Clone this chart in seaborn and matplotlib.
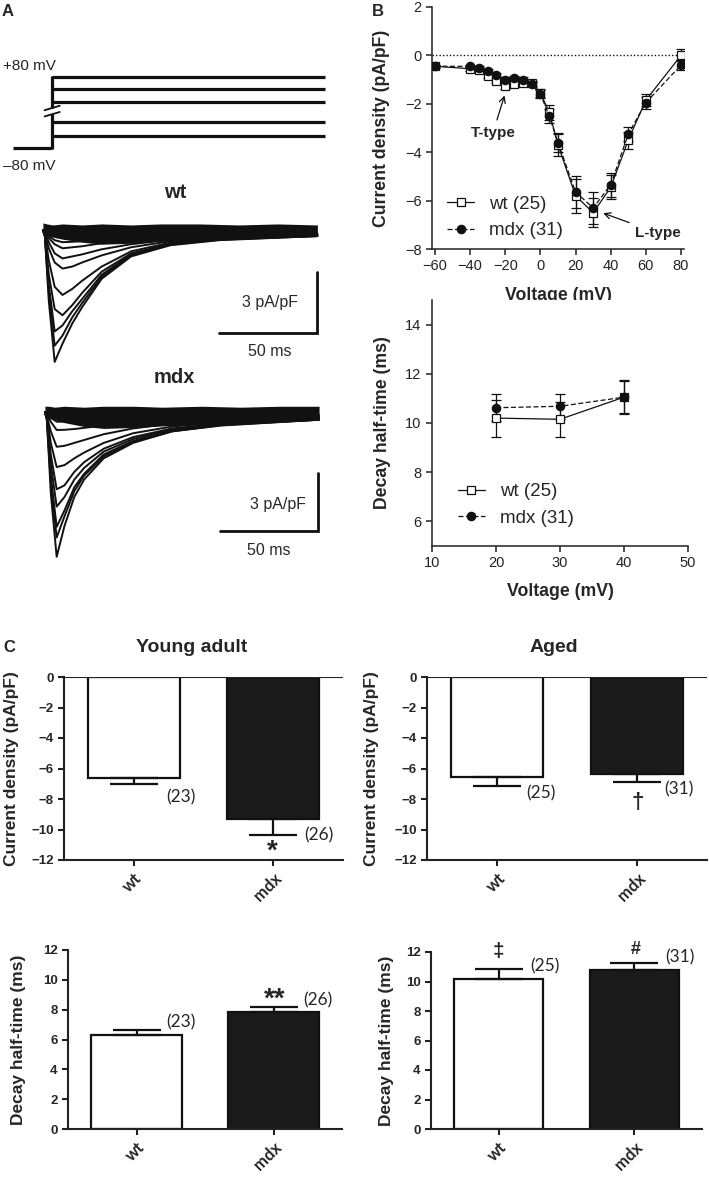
import numpy as np
import pandas as pd
import matplotlib
matplotlib.use("Agg")
import matplotlib.pyplot as plt
import seaborn as sns

# ---------------- data ----------------
# A: voltage protocol (schematic levels, mV)
protocol_t = [-20, 0, 140]
holding_mv = -80
step_mv = [80, 53, 24, -21, -53]

# A: current traces (ms, pA/pF)
trace_t = [0, 1, 3, 6, 10, 15, 20, 30, 45, 65, 90, 140]
wt_traces = [
    [0, -0.3, -3.5, -6.5, -5.6, -4.6, -3.8, -2.4, -1.3, -0.75, -0.5, -0.3],
    [0, -0.3, -3.1, -5.7, -5.2, -4.3, -3.6, -2.3, -1.25, -0.72, -0.48, -0.3],
    [0, -0.3, -2.7, -5.0, -4.7, -4.0, -3.4, -2.2, -1.2, -0.7, -0.46, -0.28],
    [0, -0.3, -2.2, -3.9, -4.2, -3.7, -3.1, -2.05, -1.15, -0.68, -0.45, -0.28],
    [0, -0.2, -1.5, -2.8, -3.2, -2.9, -2.5, -1.8, -1.05, -0.62, -0.42, -0.26],
    [0, -0.2, -0.9, -1.6, -1.9, -1.8, -1.6, -1.25, -0.85, -0.55, -0.38, -0.24],
    [0, -0.15, -0.6, -1.15, -1.4, -1.3, -1.2, -0.95, -0.7, -0.48, -0.34, -0.22],
    [0, -0.1, -0.4, -0.7, -0.9, -0.85, -0.8, -0.65, -0.5, -0.38, -0.28, -0.2],
    [0, -0.1, -0.3, -0.5, -0.6, -0.58, -0.55, -0.48, -0.38, -0.3, -0.22, -0.16],
]
mdx_traces = [
    [0, -0.4, -4.2, -7.5, -5.9, -4.4, -3.5, -2.4, -1.6, -1.0, -0.7, -0.4],
    [0, -0.4, -3.6, -6.5, -5.4, -4.1, -3.3, -2.3, -1.55, -1.0, -0.68, -0.4],
    [0, -0.3, -3.3, -5.95, -5.1, -3.9, -3.2, -2.2, -1.5, -0.95, -0.65, -0.4],
    [0, -0.3, -2.7, -4.9, -4.4, -3.5, -2.9, -2.05, -1.4, -0.9, -0.62, -0.38],
    [0, -0.3, -2.2, -4.0, -3.8, -3.1, -2.6, -1.9, -1.3, -0.85, -0.6, -0.36],
    [0, -0.2, -1.6, -2.85, -2.75, -2.4, -2.1, -1.6, -1.1, -0.75, -0.55, -0.33],
    [0, -0.2, -1.0, -1.8, -1.75, -1.6, -1.45, -1.15, -0.85, -0.6, -0.45, -0.3],
    [0, -0.1, -0.5, -0.93, -0.92, -0.88, -0.82, -0.7, -0.55, -0.42, -0.32, -0.22],
    [0, -0.1, -0.3, -0.5, -0.5, -0.48, -0.45, -0.4, -0.34, -0.28, -0.2, -0.15],
]
# baseline noise envelope of the overlaid traces
noise_t = [0, 2, 5, 10, 20, 30, 45, 60, 80, 100, 120, 140]
wt_noise_hi = [0.35, 0.3, 0.25, 0.3, 0.25, 0.3, 0.25, 0.3, 0.3, 0.25, 0.3, 0.25]
wt_noise_lo = [-0.2, -0.25, -0.35, -0.45, -0.6, -0.7, -0.65, -0.55, -0.45, -0.4, -0.36, -0.32]
mdx_noise_hi = [0.3, 0.3, 0.25, 0.3, 0.25, 0.3, 0.3, 0.25, 0.3, 0.25, 0.3, 0.3]
mdx_noise_lo = [-0.2, -0.3, -0.4, -0.55, -0.75, -0.85, -0.8, -0.72, -0.62, -0.52, -0.46, -0.42]
scale_ms = 50
scale_density = 3

# B: current-voltage relation
iv_voltage = [-60, -40, -35, -30, -25, -20, -15, -10, -5, 0, 5, 10, 20, 30, 40, 50, 60, 80]
iv_wt = [-0.45, -0.55, -0.6, -0.85, -1.05, -1.25, -1.2, -1.15, -1.15, -1.55, -2.35, -3.7,
         -5.8, -6.5, -5.45, -3.5, -1.85, 0.0]
iv_wt_sem = [0.05, 0.08, 0.08, 0.1, 0.1, 0.12, 0.1, 0.1, 0.1, 0.15, 0.3, 0.45,
             0.7, 0.6, 0.5, 0.35, 0.25, 0.25]
iv_mdx = [-0.45, -0.45, -0.5, -0.65, -0.8, -1.0, -0.95, -1.0, -1.2, -1.6, -2.5, -3.6,
          -5.65, -6.3, -5.35, -3.25, -1.95, -0.4]
iv_mdx_sem = [0.05, 0.06, 0.06, 0.08, 0.08, 0.1, 0.1, 0.1, 0.1, 0.15, 0.3, 0.4,
              0.65, 0.65, 0.5, 0.3, 0.25, 0.2]

# B: decay half-time vs voltage
dec_voltage = [20, 30, 40]
dec_wt = [10.2, 10.15, 11.05]
dec_wt_sem = [0.75, 0.7, 0.7]
dec_mdx = [10.62, 10.68, 11.05]
dec_mdx_sem = [0.55, 0.5, 0.65]

# C: bar charts
groups = ["wt", "mdx"]
young_density = [-6.6, -9.33]
young_density_sem = [0.44, 1.01]
young_n = ["(23)", "(26)"]
aged_density = [-6.54, -6.38]
aged_density_sem = [0.59, 0.49]
aged_n = ["(25)", "(31)"]
young_decay = [6.3, 7.82]
young_decay_sem = [0.34, 0.36]
aged_decay = [10.2, 10.78]
aged_decay_sem = [0.67, 0.47]

# ---------------- style ----------------
sns.set_style("ticks")
plt.rcParams["font.family"] = ["Liberation Sans", "DejaVu Sans"]
plt.rcParams["axes.unicode_minus"] = True

W, H = 709, 1181
fig = plt.figure(figsize=(W / 100, H / 100), dpi=100)


def px_axes(l, t, r, b):
    return fig.add_axes([l / W, 1 - b / H, (r - l) / W, (b - t) / H])


def px_text(x, y, s, **kw):
    fig.text(x / W, 1 - y / H, s, **kw)


INK = "#111111"

# panel letters
px_text(8, 12, "A", fontsize=12, fontweight="bold", ha="center", va="center")
px_text(378, 12, "B", fontsize=12, fontweight="bold", ha="center", va="center")
px_text(9, 648, "C", fontsize=12, fontweight="bold", ha="center", va="center")

# ---------------- A: protocol ----------------
ax = px_axes(11, 60, 327, 170)
ax.set_xlim(-21, 141)
ax.set_ylim(-129.5, 118)
ax.axis("off")
lw_p = 2.3
ax.plot(protocol_t[:2], [holding_mv, holding_mv], color=INK, lw=lw_p, solid_capstyle="butt")
ax.plot([0, 0], [holding_mv - 1.5, -4], color=INK, lw=lw_p, solid_capstyle="butt")
ax.plot([0, 0], [10, step_mv[0] + 1.5], color=INK, lw=lw_p, solid_capstyle="butt")
for yb in (-4, 10):
    ax.plot([-3.8, 4], [yb - 5, yb + 5], color=INK, lw=1.3)
for lv in step_mv:
    ax.plot(protocol_t[1:], [lv, lv], color=INK, lw=lw_p, solid_capstyle="butt")
px_text(3, 66, "+80 mV", fontsize=11, ha="left", va="center")
px_text(3, 166, "\u201380 mV", fontsize=11, ha="left", va="center")


# ---------------- A: traces ----------------
def trace_panel(box, ylim, traces, hi, lo):
    ax = px_axes(*box)
    rows = [(t, v, i) for i, tr in enumerate(traces) for t, v in zip(trace_t, tr)]
    df = pd.DataFrame(rows, columns=["t", "I", "trace"])
    ax.fill_between(noise_t, hi, lo, color=INK, lw=0)
    sns.lineplot(data=df, x="t", y="I", units="trace", estimator=None, color=INK,
                 lw=1.4, legend=False, ax=ax)
    ax.set_xlim(-2, 142)
    ax.set_ylim(*ylim)
    ax.axis("off")
    return ax


ax = trace_panel((39, 213.8, 321.3, 370), (-6.9, 0.8), wt_traces, wt_noise_hi, wt_noise_lo)
xe, yt = 139.8, -2.07
ax.plot([xe, xe, xe - scale_ms], [yt, yt - scale_density, yt - scale_density],
        color=INK, lw=2, solid_joinstyle="miter")
ax.text(xe - 24, yt - 1.48, "3 pA/pF", fontsize=11.5, ha="center", va="center")
ax.text(xe - 24, yt - 3.93, "50 ms", fontsize=11.5, ha="center", va="center")
px_text(175, 193, "wt", fontsize=14.5, fontweight="bold", ha="center", va="center")

ax = trace_panel((41, 396.6, 323, 564.5), (-7.9, 0.8), mdx_traces, mdx_noise_hi, mdx_noise_lo)
xe, yt = 139.3, -3.16
ax.plot([xe, xe, xe - scale_ms], [yt, yt - scale_density, yt - scale_density],
        color=INK, lw=2, solid_joinstyle="miter")
ax.text(xe - 20.4, yt - 1.64, "3 pA/pF", fontsize=11.5, ha="center", va="center")
ax.text(xe - 25, yt - 4.0, "50 ms", fontsize=11.5, ha="center", va="center")
px_text(174, 378, "mdx", fontsize=14.5, fontweight="bold", ha="center", va="center")


# ---------------- B ----------------
def style_b(ax):
    sns.despine(ax=ax)
    for s in ("left", "bottom"):
        ax.spines[s].set_linewidth(1.1)
        ax.spines[s].set_color("#222")
    ax.tick_params(direction="out", length=4, width=1.1, color="#222",
                   labelsize=10.5, labelcolor="#222")


def xy_series(ax, x, wt, wt_sem, mdx, mdx_sem):
    ax.errorbar(x, wt, yerr=wt_sem, fmt="none", ecolor=INK, elinewidth=0.9,
                capsize=3.5, capthick=0.9, zorder=2)
    ax.errorbar(x, mdx, yerr=mdx_sem, fmt="none", ecolor=INK, elinewidth=0.9,
                capsize=3.5, capthick=0.9, zorder=2)
    sns.lineplot(x=x, y=wt, ax=ax, color=INK, lw=0.9, marker="s", ms=6,
                 markerfacecolor="white", markeredgecolor=INK, markeredgewidth=0.9,
                 errorbar=None, label="wt (25)", zorder=3)
    sns.lineplot(x=x, y=mdx, ax=ax, color=INK, lw=0.9, ls=(0, (4, 2)), marker="o", ms=6,
                 markerfacecolor=INK, markeredgecolor=INK, markeredgewidth=0.9,
                 errorbar=None, label="mdx (31)", zorder=4)


def b_legend(ax, anchor):
    ax.legend(loc="upper left", bbox_to_anchor=anchor, frameon=False, fontsize=13.5,
              handlelength=1.45, handletextpad=0.8, labelspacing=0.5,
              borderpad=0, borderaxespad=0)


ax = px_axes(432, 7, 684, 249)
ax.axhline(0, color=INK, lw=1, ls=(0, (1, 1.5)), zorder=1)
xy_series(ax, iv_voltage, iv_wt, iv_wt_sem, iv_mdx, iv_mdx_sem)
ax.set_xlim(-61.7, 81.7)
ax.set_ylim(-8, 2)
ax.set_xticks(range(-60, 81, 20))
ax.set_yticks(range(-8, 3, 2))
style_b(ax)
ax.set_xlabel("Voltage (mV)", fontsize=12.7, fontweight="bold")
ax.set_ylabel("Current density (pA/pF)", fontsize=12.7, fontweight="bold")
ax.xaxis.set_label_coords(0.5, -0.157)
ax.yaxis.set_label_coords(-0.165, 0.5)
b_legend(ax, (0.06, 0.22))
ax.annotate("T-type", xy=(-20.2, -1.6), xytext=(-27, -3.2), fontsize=11, fontweight="bold",
            ha="center", va="center",
            arrowprops=dict(arrowstyle="->", color=INK, lw=0.9, shrinkA=2, shrinkB=1))
ax.annotate("L-type", xy=(35, -6.5), xytext=(66.9, -7.34), fontsize=11, fontweight="bold",
            ha="center", va="center",
            arrowprops=dict(arrowstyle="->", color=INK, lw=0.9, shrinkA=2, shrinkB=1))

ax = px_axes(432, 300, 688, 546)
xy_series(ax, dec_voltage, dec_wt, dec_wt_sem, dec_mdx, dec_mdx_sem)
ax.set_xlim(10, 50)
ax.set_ylim(5, 15)
ax.set_xticks(range(10, 51, 10))
ax.set_yticks(range(6, 15, 2))
style_b(ax)
ax.set_xlabel("Voltage (mV)", fontsize=12.7, fontweight="bold")
ax.set_ylabel("Decay half-time (ms)", fontsize=12.7, fontweight="bold")
ax.xaxis.set_label_coords(0.5, -0.15)
ax.yaxis.set_label_coords(-0.162, 0.5)
b_legend(ax, (0.10, 0.255))


# ---------------- C ----------------
def bar_panel(box, vals, sems, ylim, yticks, ylabel, label_x):
    ax = px_axes(*box)
    df = pd.DataFrame({"group": groups, "value": vals})
    sns.barplot(data=df, x="group", y="value", hue="group", palette=["white", "#1a1a1a"],
                width=0.66, edgecolor=INK, linewidth=1.6, saturation=1, errorbar=None,
                legend=False, ax=ax, zorder=2)
    down = [s if v < 0 else 0 for v, s in zip(vals, sems)]
    up = [s if v > 0 else 0 for v, s in zip(vals, sems)]
    ax.errorbar([0, 1], vals, yerr=[down, up], fmt="none", ecolor=INK, elinewidth=1.6,
                capsize=17, capthick=1.6, zorder=3)
    ax.set_xlim(-0.5, 1.5)
    ax.set_ylim(*ylim)
    ax.set_yticks(yticks)
    sns.despine(ax=ax)
    for s in ("left", "bottom"):
        ax.spines[s].set_linewidth(1.5)
        ax.spines[s].set_color("#222")
    if ylim[1] == 0:
        ax.axhline(0, color="#222", lw=1.5, zorder=4)
    ax.tick_params(direction="out", length=4, width=1.5, color="#222", labelsize=9.5)
    for lab in ax.get_yticklabels():
        lab.set_fontweight("bold")
    ax.set_xticks([0, 1])
    ax.set_xticklabels(groups, rotation=45, ha="right", va="top", rotation_mode="anchor",
                       fontsize=12, fontweight="bold", family=["Lato", "DejaVu Sans"])
    ax.set_xlabel("")
    ax.set_ylabel(ylabel, fontsize=12.5, fontweight="bold")
    ax.yaxis.set_label_coords(label_x, 0.5)
    return ax


nfont = dict(fontsize=12.5, family=["Lato", "DejaVu Sans"], ha="left", va="center")

ax = bar_panel((64, 677, 343, 860), young_density, young_density_sem, (-12, 0),
               range(-12, 1, 2), "Current density (pA/pF)", -0.163)
ax.text(0.232, -7.87, young_n[0], **nfont)
ax.text(1.225, -10.36, young_n[1], **nfont)
ax.text(0.996, -11.45, "*", fontsize=20, fontweight="bold", ha="center", va="center")
px_text(192, 648, "Young adult", fontsize=14, fontweight="bold", ha="center", va="center")

ax = bar_panel((427, 677, 707, 860), aged_density, aged_density_sem, (-12, 0),
               range(-12, 1, 2), "Current density (pA/pF)", -0.173)
ax.text(0.21, -7.6, aged_n[0], **nfont)
ax.text(1.196, -7.4, aged_n[1], **nfont)
ax.text(1.007, -8.26, "\u2020", fontsize=16, fontweight="bold", ha="center", va="center")
px_text(554, 648, "Aged", fontsize=14, fontweight="bold", ha="center", va="center")

ax = bar_panel((68, 950, 342, 1129), young_decay, young_decay_sem, (0, 12),
               range(0, 13, 2), "Decay half-time (ms)", -0.155)
ax.text(0.216, 7.17, young_n[0], **nfont)
ax.text(1.22, 8.65, young_n[1], **nfont)
ax.text(1.01, 8.7, "**", fontsize=20, fontweight="bold", ha="center", va="center")

ax = bar_panel((431, 952, 702, 1129), aged_decay, aged_decay_sem, (0, 12),
               range(0, 13, 2), "Decay half-time (ms)", -0.138)
ax.text(0.23, 11.0, aged_n[0], **nfont)
ax.text(1.23, 11.66, aged_n[1], **nfont)
ax.text(0.0, 12.0, "\u2021", fontsize=15, fontweight="bold", ha="center", va="center")
ax.text(1.007, 12.14, "#", fontsize=13, fontweight="bold", ha="center", va="center")

fig.savefig("out.png", dpi=100)
